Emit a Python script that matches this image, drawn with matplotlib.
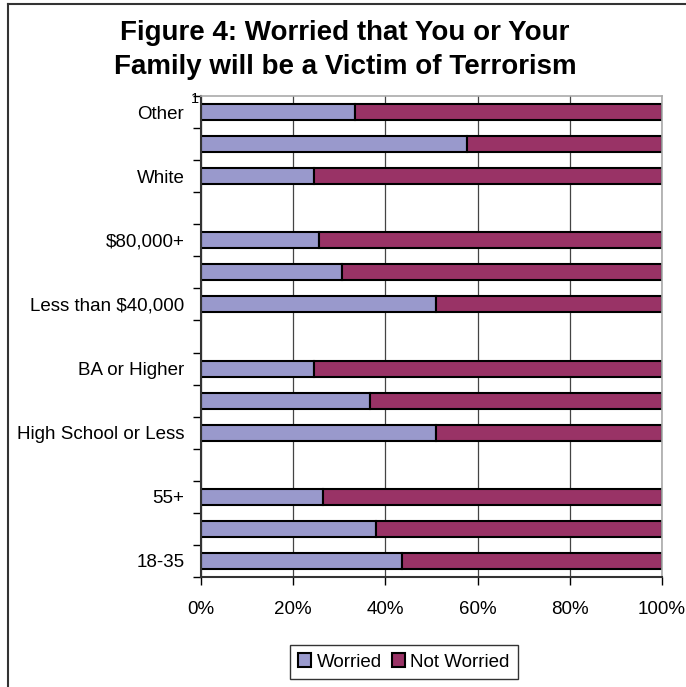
import matplotlib.pyplot as plt
import numpy as np
from matplotlib.lines import Line2D

plt.rcParams['font.family'] = ['Liberation Sans', 'DejaVu Sans']

# categories bottom to top (blank strings = unlabeled bars / gaps)
labels = ['18-35', '', '55+', '', 'High School or Less', '', 'BA or Higher', '',
          'Less than $40,000', '', '$80,000+', '', 'White', '', 'Other']
# percent worried, None for empty gap rows
worried = [43.5, 38, 26.5, None, 51, 36.6, 24.6, None,
           51, 30.5, 25.7, None, 24.5, 57.8, 33.5]
legend_labels = ['Worried', 'Not Worried']
xticks = [0, 20, 40, 60, 80, 100]

W, H = 686, 687
fig = plt.figure(figsize=(W / 100, H / 100), dpi=100)
ax = fig.add_axes([201 / W, 1 - 577 / H, (662 - 201) / W, (577 - 96) / H])

pos = np.arange(1, len(labels) + 1)
w = np.array([np.nan if v is None else v for v in worried])
nw = 100 - w
c1, c2 = '#9999CC', '#993366'
ax.barh(pos, w, height=0.5, color=c1, edgecolor='black', linewidth=1.5, label=legend_labels[0])
ax.barh(pos, nw, left=w, height=0.5, color=c2, edgecolor='black', linewidth=1.5, label=legend_labels[1])

ax.set_xlim(0, 100)
ax.set_ylim(0.5, len(labels) + 0.5)
ax.set_xticks(xticks)
ax.set_xticklabels([f'{x}%' for x in xticks], fontsize=13.5)
ax.tick_params(axis='x', direction='out', length=6, width=1, pad=11)
ax.xaxis.grid(True, color='#444444', linewidth=0.9)
ax.set_axisbelow(True)

ax.set_yticks(pos[::2])
ax.set_yticklabels(labels[::2], fontsize=13.5)
ax.tick_params(axis='y', which='major', length=0, pad=12)
ax.set_yticks(np.arange(0.5, len(labels) + 1, 1), minor=True)
ax.tick_params(axis='y', which='minor', direction='out', length=6, width=1)

for s in ['top', 'right']:
    ax.spines[s].set_color('#aaaaaa')
    ax.spines[s].set_linewidth(1.2)
for s in ['left', 'bottom']:
    ax.spines[s].set_color('#333333')
    ax.spines[s].set_linewidth(1.5)

fig.text(195 / W, 1 - 99 / H, '1', fontsize=10.5, ha='center', va='center')

fig.text(345 / W, 1 - 33 / H, 'Figure 4: Worried that You or Your',
         fontsize=20, fontweight='bold', ha='center', va='center')
fig.text(345 / W, 1 - 67 / H, 'Family will be a Victim of Terrorism',
         fontsize=20, fontweight='bold', ha='center', va='center')

leg = fig.legend(loc='center', bbox_to_anchor=(404 / W, 1 - 662 / H), ncol=2,
                 fontsize=13.5, frameon=True, fancybox=False, handlelength=0.7,
                 handleheight=0.7, handletextpad=0.3, columnspacing=0.5,
                 borderpad=0.45, borderaxespad=0)
leg.get_frame().set_edgecolor('black')
leg.get_frame().set_linewidth(1)

# outer chart border (top and left visible)
fig.add_artist(Line2D([8 / W, 1], [1 - 4 / H, 1 - 4 / H], color='#333333', linewidth=1.5))
fig.add_artist(Line2D([8 / W, 8 / W], [0, 1 - 4 / H], color='#333333', linewidth=1.5))

fig.savefig('out.png', dpi=100)
